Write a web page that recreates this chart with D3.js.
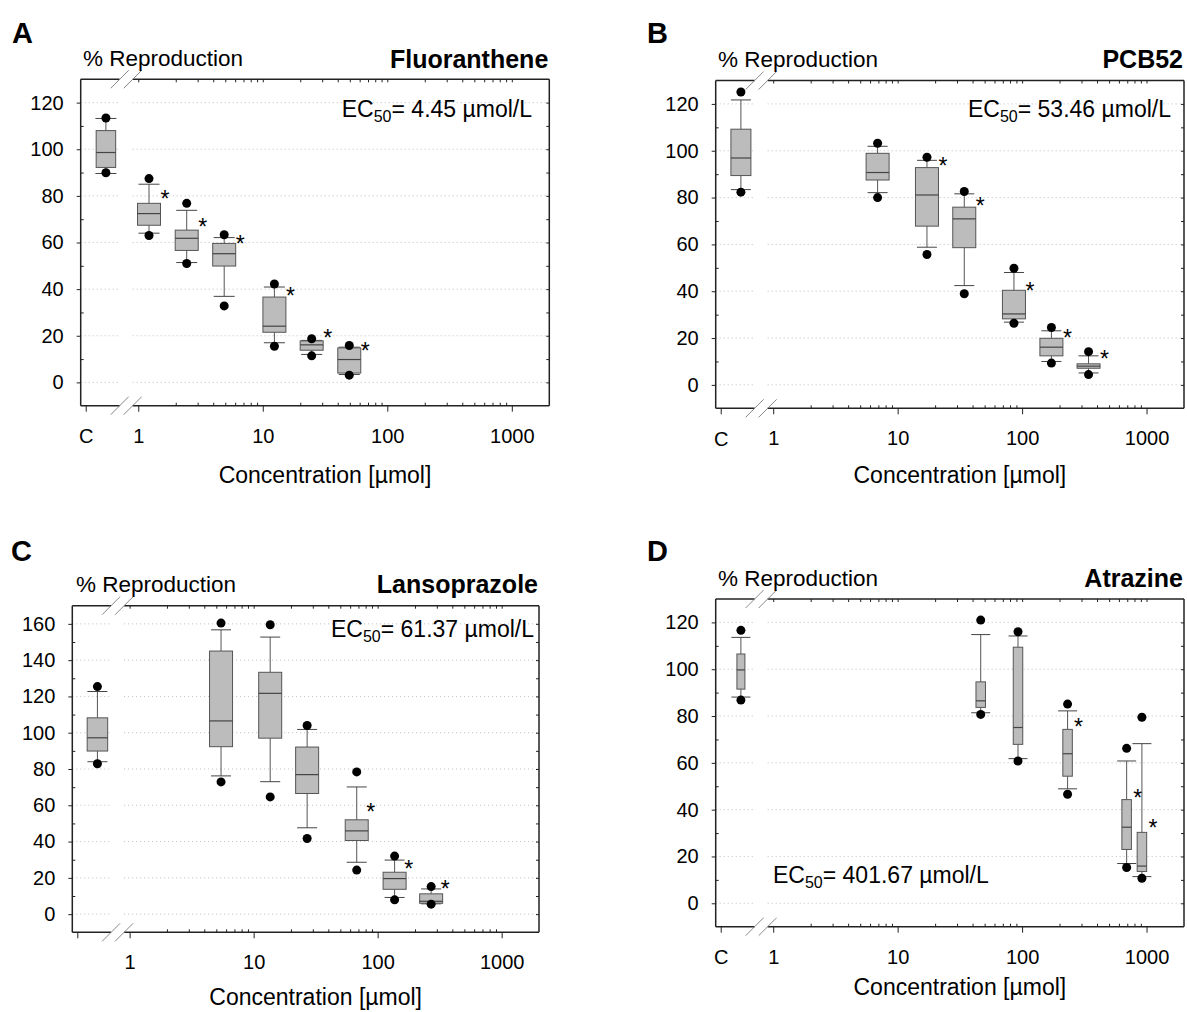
<!DOCTYPE html>
<html>
<head>
<meta charset="utf-8">
<script src="https://cdn.jsdelivr.net/npm/d3@7"></script>
<style>
  body { margin: 0; background: #fff; }
  text { font-family: "Liberation Sans", Arial, sans-serif; fill: #000; }
</style>
</head>
<body>
<svg width="1187" height="1012"></svg>
<script>
// ---- data ----
// each box row: [low dot, lower whisker, q1, median, q3, upper whisker, high dot]; first row is the control
const concA = [1.22, 2.45, 4.9, 12.4, 24.7, 49.5];
const boxA = [
  [89.9, 89.6, 92.2, 98.6, 108, 113.2, 113.4],
  [63, 64, 67.4, 72.4, 76.8, 85, 87.4],
  [51, 51.4, 56.6, 61.8, 65.3, 73.8, 76.8],
  [32.8, 36.9, 49.9, 55.2, 59.6, 62.1, 63.3],
  [15.5, 17, 21.5, 24.1, 36.6, 40.9, 42.2],
  [11.4, 12, 13.8, 16.1, 17.8, 18, 18.7],
  [3.1, 3.4, 4, 9.8, 14.8, 15.1, 15.8]
];
const starA = [null, 80.8, 68.7, 61.4, 39.3, 21.2, 15.5];

const concB = [6.9, 17.2, 34.3, 86, 172, 342];
const boxB = [
  [82.3, 83.4, 89.4, 96.9, 109.2, 121.7, 125.1],
  [80, 82.1, 87.5, 90.7, 98.9, 101.9, 103.2],
  [55.7, 58.8, 67.8, 81.1, 92.8, 95.9, 97.2],
  [38.9, 42.4, 58.6, 70.9, 75.9, 81.6, 82.6],
  [26.3, 26.8, 28.2, 30.3, 40.4, 48, 49.8],
  [9.3, 10, 12.4, 16.1, 19.9, 23.1, 24.5],
  [4.4, 5.1, 7.1, 8, 9, 12.4, 14.2]
];
const starB = [null, null, 95.8, 78.7, 42.4, 22, 13.2];

const concC = [5.46, 13.6, 27, 67.8, 137, 270];
const boxC = [
  [82.9, 84, 89.9, 97.2, 108.2, 122.7, 125.4],
  [72.9, 76.2, 92.3, 106.5, 145, 156.7, 160.4],
  [64.6, 73, 97, 121.7, 133.3, 152.7, 159.5],
  [41.7, 47.6, 66.5, 76.9, 92.1, 101.8, 104],
  [24.3, 28.6, 40.6, 45.9, 52, 70.1, 78.4],
  [7.9, 9.2, 13.7, 19.6, 23.1, 29.8, 32],
  [5.5, 5.7, 6, 7.1, 11.2, 13.9, 15.2]
];
const starC = [null, null, null, null, 59.1, 27.5, 16.5];

const concD = [46.5, 92.7, 232, 692, 918];
const boxD = [
  [86.8, 88.1, 91.5, 99.7, 106.5, 113.6, 116.6],
  [80.7, 81.4, 83.7, 86.5, 94.6, 114.8, 121],
  [60.8, 61.8, 67.9, 75.1, 109.4, 114.2, 116],
  [46.6, 48.9, 54.3, 63.9, 74.3, 82.2, 85.1],
  [15.3, 17, 23, 32.5, 44.3, 60.8, 66.2],
  [10.7, 11.4, 13.6, 15.9, 30.3, 68.2, 79.5]
];
const starD = [null, null, null, 77.6, 47.2, 34.1];

const ticks120 = [0, 20, 40, 60, 80, 100, 120];
const ticks160 = [0, 20, 40, 60, 80, 100, 120, 140, 160];
const xMajor = [1, 10, 100, 1000];
const ec50 = ["4.45", "53.46", "61.37", "401.67"];
const names = ["Fluoranthene", "PCB52", "Lansoprazole", "Atrazine"];

// ---- layout ----
const CTRL = 0.55, CTICK = 0.382, BREAK = 0.8;

const panels = [
  { letter: "A", lx: 12, ly: 43, name: names[0], ec: ec50[0], conc: concA, box: boxA, star: starA,
    yMax: 130, yTicks: ticks120, x0: 80.7, x1: 549.3, y0: 79.3, y1: 405.7, showC: true,
    boxW: 23, capW: 21, ctrlW: 19.5, starDx: 16,
    titleY: 68, ecX: 532, ecY: 117, ecAnchor: "end", repX: 83, repY: 66, xlabY: 483 },
  { letter: "B", lx: 647, ly: 43, name: names[1], ec: ec50[1], conc: concB, box: boxB, star: starB,
    yMax: 130, yTicks: ticks120, x0: 715.7, x1: 1184, y0: 80.5, y1: 408.3, showC: true,
    boxW: 23, capW: 20, ctrlW: 20, starDx: 16,
    titleY: 68, ecX: 1171, ecY: 117, ecAnchor: "end", repX: 718, repY: 67, xlabY: 483 },
  { letter: "C", lx: 11, ly: 561, name: names[2], ec: ec50[2], conc: concC, box: boxC, star: starC,
    yMax: 170, yTicks: ticks160, x0: 72.3, x1: 539, y0: 605.7, y1: 932.3, showC: false,
    boxW: 23, capW: 20, ctrlW: 20.5, starDx: 14,
    titleY: 593, ecX: 534, ecY: 637, ecAnchor: "end", repX: 76, repY: 592, xlabY: 1005 },
  { letter: "D", lx: 647, ly: 561, name: names[3], ec: ec50[3], conc: concD, box: boxD, star: starD,
    yMax: 130, yTicks: ticks120, x0: 715.7, x1: 1184, y0: 599, y1: 926.7, showC: true,
    boxW: 9.5, capW: 19, ctrlW: 8, starDx: 11,
    titleY: 587, ecX: 773, ecY: 883, ecAnchor: "start", repX: 718, repY: 586, xlabY: 995 }
];

const svg = d3.select("svg");

function drawPanel(p) {
  const g = svg.append("g");
  const x = d3.scaleLog().domain([0.345, 2000]).range([p.x0, p.x1]);
  const y = d3.scaleLinear().domain([-10, p.yMax]).range([p.y1, p.y0]);
  const bx = x(BREAK);

  // dotted grid, interrupted at the axis break
  p.yTicks.forEach(t => {
    [[p.x0, bx - 6.5], [bx + 6.5, p.x1]].forEach(s => {
      g.append("line")
        .attr("x1", s[0]).attr("x2", s[1])
        .attr("y1", y(t)).attr("y2", y(t))
        .attr("stroke", "#bdbdbd").attr("stroke-width", 1)
        .attr("stroke-dasharray", "1,3");
    });
  });

  // boxes
  const items = [{ c: CTRL, s: p.box[0], st: p.star[0], w: p.ctrlW }]
    .concat(p.conc.map((c, i) => ({ c: c, s: p.box[i + 1], st: p.star[i + 1], w: p.boxW })));

  const b = g.selectAll(".bx").data(items).enter().append("g");
  b.append("line")
    .attr("x1", d => x(d.c)).attr("x2", d => x(d.c))
    .attr("y1", d => y(d.s[1])).attr("y2", d => y(d.s[2]))
    .attr("stroke", "#555").attr("stroke-width", 1);
  b.append("line")
    .attr("x1", d => x(d.c)).attr("x2", d => x(d.c))
    .attr("y1", d => y(d.s[4])).attr("y2", d => y(d.s[5]))
    .attr("stroke", "#555").attr("stroke-width", 1);
  [1, 5].forEach(k => {
    b.append("line")
      .attr("x1", d => x(d.c) - p.capW / 2).attr("x2", d => x(d.c) + p.capW / 2)
      .attr("y1", d => y(d.s[k])).attr("y2", d => y(d.s[k]))
      .attr("stroke", "#444").attr("stroke-width", 1);
  });
  b.append("rect")
    .attr("x", d => x(d.c) - d.w / 2).attr("width", d => d.w)
    .attr("y", d => y(d.s[4])).attr("height", d => y(d.s[2]) - y(d.s[4]))
    .attr("fill", "#bcbcbc").attr("stroke", "#555").attr("stroke-width", 1);
  b.append("line")
    .attr("x1", d => x(d.c) - d.w / 2).attr("x2", d => x(d.c) + d.w / 2)
    .attr("y1", d => y(d.s[3])).attr("y2", d => y(d.s[3]))
    .attr("stroke", "#444").attr("stroke-width", 1.2);
  [0, 6].forEach(k => {
    b.append("circle")
      .attr("cx", d => x(d.c)).attr("cy", d => y(d.s[k]))
      .attr("r", 4.5).attr("fill", "#000");
  });
  b.filter(d => d.st != null).append("text")
    .attr("x", d => x(d.c) + p.starDx).attr("y", d => y(d.st) + 13)
    .attr("text-anchor", "middle").style("font-size", "23px")
    .text("*");

  // frame with breaks
  const fr = "#222";
  const gap = 6.5;
  [[p.x0, bx - gap], [bx + gap, p.x1]].forEach(s => {
    g.append("line").attr("x1", s[0]).attr("x2", s[1]).attr("y1", p.y0).attr("y2", p.y0)
      .attr("stroke", fr).attr("stroke-width", 1.5);
    g.append("line").attr("x1", s[0]).attr("x2", s[1]).attr("y1", p.y1).attr("y2", p.y1)
      .attr("stroke", fr).attr("stroke-width", 1.5);
  });
  g.append("line").attr("x1", p.x0).attr("x2", p.x0).attr("y1", p.y0).attr("y2", p.y1)
    .attr("stroke", fr).attr("stroke-width", 1.5);
  g.append("line").attr("x1", p.x1).attr("x2", p.x1).attr("y1", p.y0).attr("y2", p.y1)
    .attr("stroke", fr).attr("stroke-width", 1.5);
  [p.y0, p.y1].forEach(yy => {
    [-gap, gap].forEach(o => {
      g.append("line")
        .attr("x1", bx + o - 9).attr("y1", yy + 9)
        .attr("x2", bx + o + 9).attr("y2", yy - 9)
        .attr("stroke", "#888").attr("stroke-width", 1);
    });
  });

  // axes
  const minorX = [];
  [1, 10, 100].forEach(dec => { for (let m = 2; m <= 9; m++) minorX.push(m * dec); });
  const minorY = d3.range(10, p.yMax - 10, 20);
  const allY = d3.range(0, p.yMax, 10);

  const xAxis = d3.axisBottom(x).tickValues(xMajor).tickFormat(d3.format("d"))
    .tickSize(6).tickPadding(17);
  const xMin = d3.axisBottom(x).tickValues(minorX).tickFormat("").tickSize(-3);
  const xTop = d3.axisTop(x).tickValues(xMajor.concat(minorX)).tickFormat("").tickSize(-3);
  const yAxis = d3.axisLeft(y).tickValues(p.yTicks).tickSize(4).tickPadding(13);
  const yMin = d3.axisLeft(y).tickValues(minorY).tickFormat("").tickSize(-3);
  const yRight = d3.axisRight(y).tickValues(allY).tickFormat("").tickSize(-3);

  const axes = [
    [xAxis, "translate(0," + p.y1 + ")"],
    [xMin, "translate(0," + p.y1 + ")"],
    [xTop, "translate(0," + p.y0 + ")"],
    [yAxis, "translate(" + p.x0 + ",0)"],
    [yMin, "translate(" + p.x0 + ",0)"],
    [yRight, "translate(" + p.x1 + ",0)"]
  ];
  axes.forEach(a => {
    const ag = g.append("g").attr("transform", a[1]).call(a[0]);
    ag.select(".domain").remove();
    ag.selectAll("line").attr("stroke", fr).attr("stroke-width", 1);
    ag.selectAll("text").style("font-size", "20px").style("font-family", null).attr("fill", "#000");
  });

  // control tick
  g.append("line").attr("x1", x(CTICK)).attr("x2", x(CTICK))
    .attr("y1", p.y1).attr("y2", p.y1 + 6).attr("stroke", fr);
  if (p.showC) {
    g.append("text").attr("x", x(CTICK)).attr("y", p.y1 + 23).attr("dy", "0.71em")
      .attr("text-anchor", "middle").style("font-size", "20px").text("C");
  }

  // labels
  g.append("text").attr("x", p.lx).attr("y", p.ly)
    .style("font-size", "29px").style("font-weight", "bold").text(p.letter);
  g.append("text").attr("x", p.repX).attr("y", p.repY)
    .style("font-size", "22.5px").text("% Reproduction");
  g.append("text").attr("x", p.x1 - 1).attr("y", p.titleY).attr("text-anchor", "end")
    .style("font-size", "25px").style("font-weight", "bold").text(p.name);
  g.append("text").attr("x", (p.x0 + p.x1) / 2 + 10).attr("y", p.xlabY)
    .attr("text-anchor", "middle").style("font-size", "23px").text("Concentration [µmol]");

  const ec = g.append("text").attr("x", p.ecX).attr("y", p.ecY)
    .attr("text-anchor", p.ecAnchor).style("font-size", "23px");
  ec.append("tspan").text("EC");
  ec.append("tspan").attr("dy", 5).style("font-size", "16px").text("50");
  ec.append("tspan").attr("dy", -5).text("= " + p.ec + " µmol/L");
}

panels.forEach(drawPanel);
</script>
</body>
</html>
